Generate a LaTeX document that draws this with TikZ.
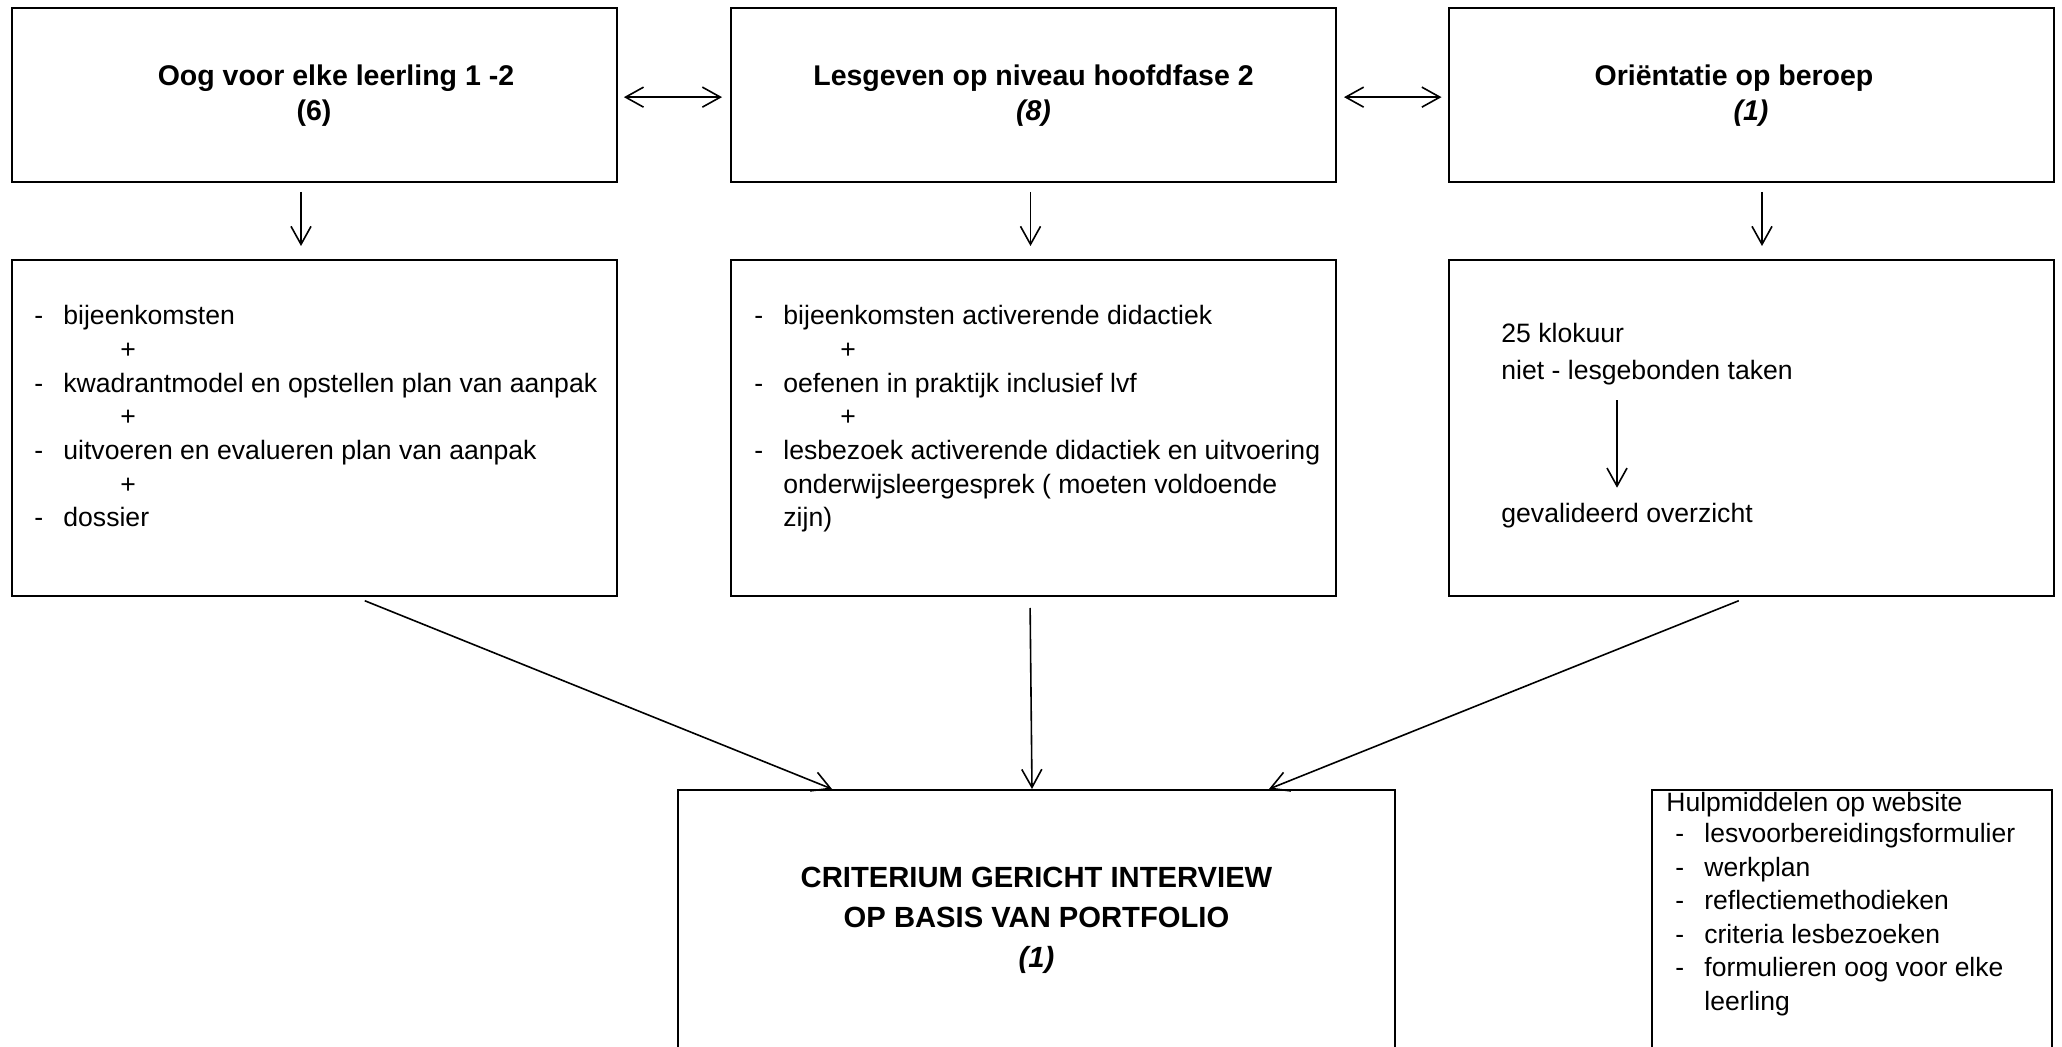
\documentclass[tikz,border=0pt]{standalone}
\usepackage{fontspec}
\setmainfont{Liberation Sans}
\usetikzlibrary{arrows.meta}

\newcommand{\streep}[1]{\makebox[14.5pt][l]{-}#1}
\newcommand{\plusje}{\hspace*{43pt}+}
\newcommand{\inspring}{\hspace*{14.5pt}}

\tikzset{
  blok/.style={draw, line width=1pt, minimum width=302.5pt, inner sep=0pt},
  pijl/.style={-{Straight Barb[length=9pt,width=10pt]}, line width=0.8pt},
  dubbelpijl/.style={{Straight Barb[length=9pt,width=10pt]}-{Straight Barb[length=9pt,width=10pt]}, line width=0.8pt},
  titel/.style={font=\fontsize{14.25pt}{17.2pt}\selectfont\bfseries, align=center, anchor=north, inner sep=0pt},
  lijst/.style={font=\fontsize{13.3pt}{16.85pt}\selectfont, align=left, anchor=north west, inner sep=0pt},
}

\begin{document}
\begin{tikzpicture}[x=0.5pt,y=-0.5pt]
\useasboundingbox (0,0) rectangle (2062,1047);
\clip (0,0) rectangle (2062,1047);

% bovenste rij
\node[blok, minimum height=86.85pt] (oog) at (314,95.15) {};
\node[blok, minimum height=86.85pt] (les) at (1033.5,95.15) {};
\node[blok, minimum height=86.85pt] (ori) at (1751,95.15) {};
\node[titel] (oogtitel) at (314,61.4) {\strut\hspace*{22pt}Oog voor elke leerling 1 -2\\(6)};
\node[titel] (lestitel) at (1033.5,61.4) {\strut Lesgeven op niveau hoofdfase 2\\\textit{(8)}};
\node[titel] (orititel) at (1751,61.4) {\strut Oriëntatie op beroep\hspace*{17pt}\\\textit{(1)}};

\draw[dubbelpijl, shorten <=3.2pt, shorten >=4pt] ([yshift=-1pt]oog.east) -- ([yshift=-1pt]les.west);
\draw[dubbelpijl, shorten <=3.5pt, shorten >=3pt] ([yshift=-1pt]les.east) -- ([yshift=-1pt]ori.west);

% middelste rij
\node[blok, minimum height=168pt] (oogtaken) at (314,428) {};
\node[blok, minimum height=168pt] (lestaken) at (1033.5,428) {};
\node[blok, minimum height=168pt] (oritaken) at (1751,428) {};

\node[lijst] (oogtekst) at (34,300.7) {\strut\streep{bijeenkomsten}\\
  \plusje\\
  \streep{kwadrantmodel en opstellen plan van aanpak}\\
  \plusje\\
  \streep{uitvoeren en evalueren plan van aanpak}\\
  \plusje\\
  \streep{dossier}};
\node[lijst] (lestekst) at (754,300.7) {\strut\streep{bijeenkomsten activerende didactiek}\\
  \plusje\\
  \streep{oefenen in praktijk inclusief lvf}\\
  \plusje\\
  \streep{lesbezoek activerende didactiek en uitvoering}\\
  \inspring onderwijsleergesprek ( moeten voldoende\\
  \inspring zijn)};
\node[lijst, font=\fontsize{13.3pt}{18.3pt}\selectfont] (klok) at (1501,316.4) {\strut 25 klokuur\\niet - lesgebonden taken};
\node[lijst, anchor=base west] (gev) at (1501,523) {gevalideerd overzicht};
\draw[pijl, shorten <=7.7pt, shorten >=7.8pt] ([xshift=58pt]klok.south west) -- ([xshift=58pt]gev.north west);

\draw[pijl, shorten <=4.5pt, shorten >=6.5pt] ([xshift=-6.5pt]oog.south) -- ([xshift=-6.5pt]oogtaken.north);
\draw[pijl, shorten <=4.5pt, shorten >=6.5pt] ([xshift=-1.5pt]les.south) -- ([xshift=-1.5pt]lestaken.north);
\draw[pijl, shorten <=4.5pt, shorten >=6.5pt] ([xshift=5.5pt]ori.south) -- ([xshift=5.5pt]oritaken.north);

% onderste rij
\node[blok, minimum width=358.5pt, minimum height=150pt] (cgi) at (1036.5,940) {};
\node[titel, font=\fontsize{14.6pt}{20pt}\selectfont\bfseries] (cgititel) at (1036.5,859.5) {\strut CRITERIUM GERICHT INTERVIEW\\OP BASIS VAN PORTFOLIO\\\textit{(1)}};

\draw[pijl, shorten <=5pt] ([xshift=20.75pt]oogtaken.south) -- ([xshift=-102.25pt]cgi.north);
\draw[pijl, shorten <=5.5pt] ([xshift=-1.75pt]lestaken.south) -- ([xshift=-2.25pt]cgi.north);
\draw[pijl, shorten <=5pt] ([xshift=-1.5pt]oritaken.south) -- ([xshift=116.25pt]cgi.north);

\node[blok, minimum width=200pt, minimum height=150pt] (hulp) at (1852,940) {};
\node[lijst, font=\fontsize{13.25pt}{16.75pt}\selectfont] (hulptekst) at (1666,787.5) {\strut Hulpmiddelen op website\\[-1pt]
  \hspace*{4.5pt}\makebox[14.5pt][l]{-}lesvoorbereidingsformulier\\
  \hspace*{4.5pt}\makebox[14.5pt][l]{-}werkplan\\
  \hspace*{4.5pt}\makebox[14.5pt][l]{-}reflectiemethodieken\\
  \hspace*{4.5pt}\makebox[14.5pt][l]{-}criteria lesbezoeken\\
  \hspace*{4.5pt}\makebox[14.5pt][l]{-}formulieren oog voor elke\\
  \hspace*{19pt}leerling};
\end{tikzpicture}
\end{document}
